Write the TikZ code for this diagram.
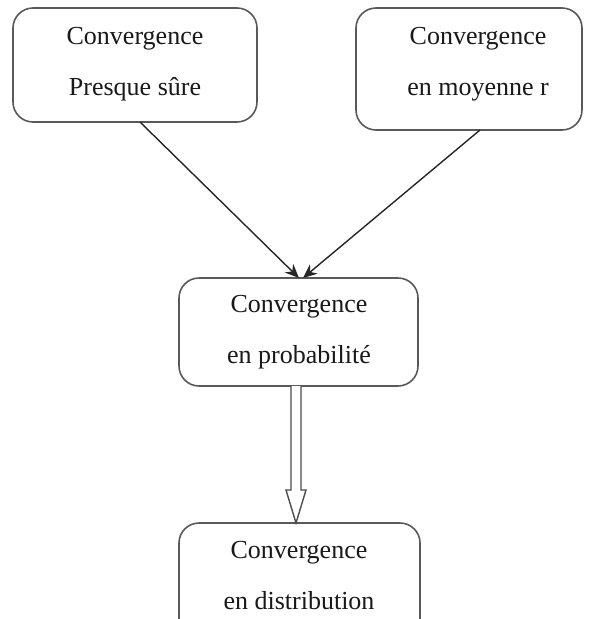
\documentclass[tikz,border=0pt]{standalone}
\usepackage{fontspec}
\setmainfont{Liberation Serif}
\usetikzlibrary{arrows.meta,calc}
\begin{document}
\begin{tikzpicture}[x=1pt,y=-1pt,
  boxstyle/.style={draw=black!65, line width=1.6pt, rounded corners=20pt, fill=white},
  txt/.style={font=\fontsize{26}{30}\selectfont, inner sep=0pt, anchor=base, text=black!90},
  arr/.style={draw=black!85, line width=1.4pt, -{Stealth[length=14pt,width=12pt]}}]
\useasboundingbox (0,0) rectangle (589,619);
\begin{scope}
\clip (0,0) rectangle (589,619);
% boxes
\draw[boxstyle] (13,8) rectangle (257,122);
\coordinate (b1s) at (140,122);
\draw[boxstyle] (356,8) rectangle (582,130);
\coordinate (b2s) at (480,130);
\draw[boxstyle] (179,278) rectangle (418,386);
\coordinate (b3n) at (301,278);
\coordinate (b3s) at (296,386);
\draw[boxstyle] (179,523) rectangle (420,660);
\coordinate (b4n) at (296,523);
\end{scope}
% texts
\node[txt] (t1a) at (135,44) {Convergence};
\node[txt] (t1b) at (135,95) {Presque sûre};
\node[txt] (t2a) at (478,44) {Convergence};
\node[txt] (t2b) at (478,95) {en moyenne r};
\node[txt] (t3a) at (299,312) {Convergence};
\node[txt] (t3b) at (299,363) {en probabilité};
\node[txt] (t4a) at (299,558) {Convergence};
\node[txt] (t4b) at (299,609) {en distribution};
% arrows
\draw[arr] (b1s) -- ($(b3n)+(-2,0)$);
\draw[arr] (b2s) -- ($(b3n)+(2,0)$);
% hollow arrow
\draw[draw=black!70, line width=1.4pt, fill=white, line join=miter]
  ($(b3s)+(-5,0)$) -- ($(b3s)+(-5,104)$) -- ($(b3s)+(-10,104)$) -- (b4n)
  -- ($(b3s)+(10,104)$) -- ($(b3s)+(5,104)$) -- ($(b3s)+(5,0)$);
\end{tikzpicture}
\end{document}
